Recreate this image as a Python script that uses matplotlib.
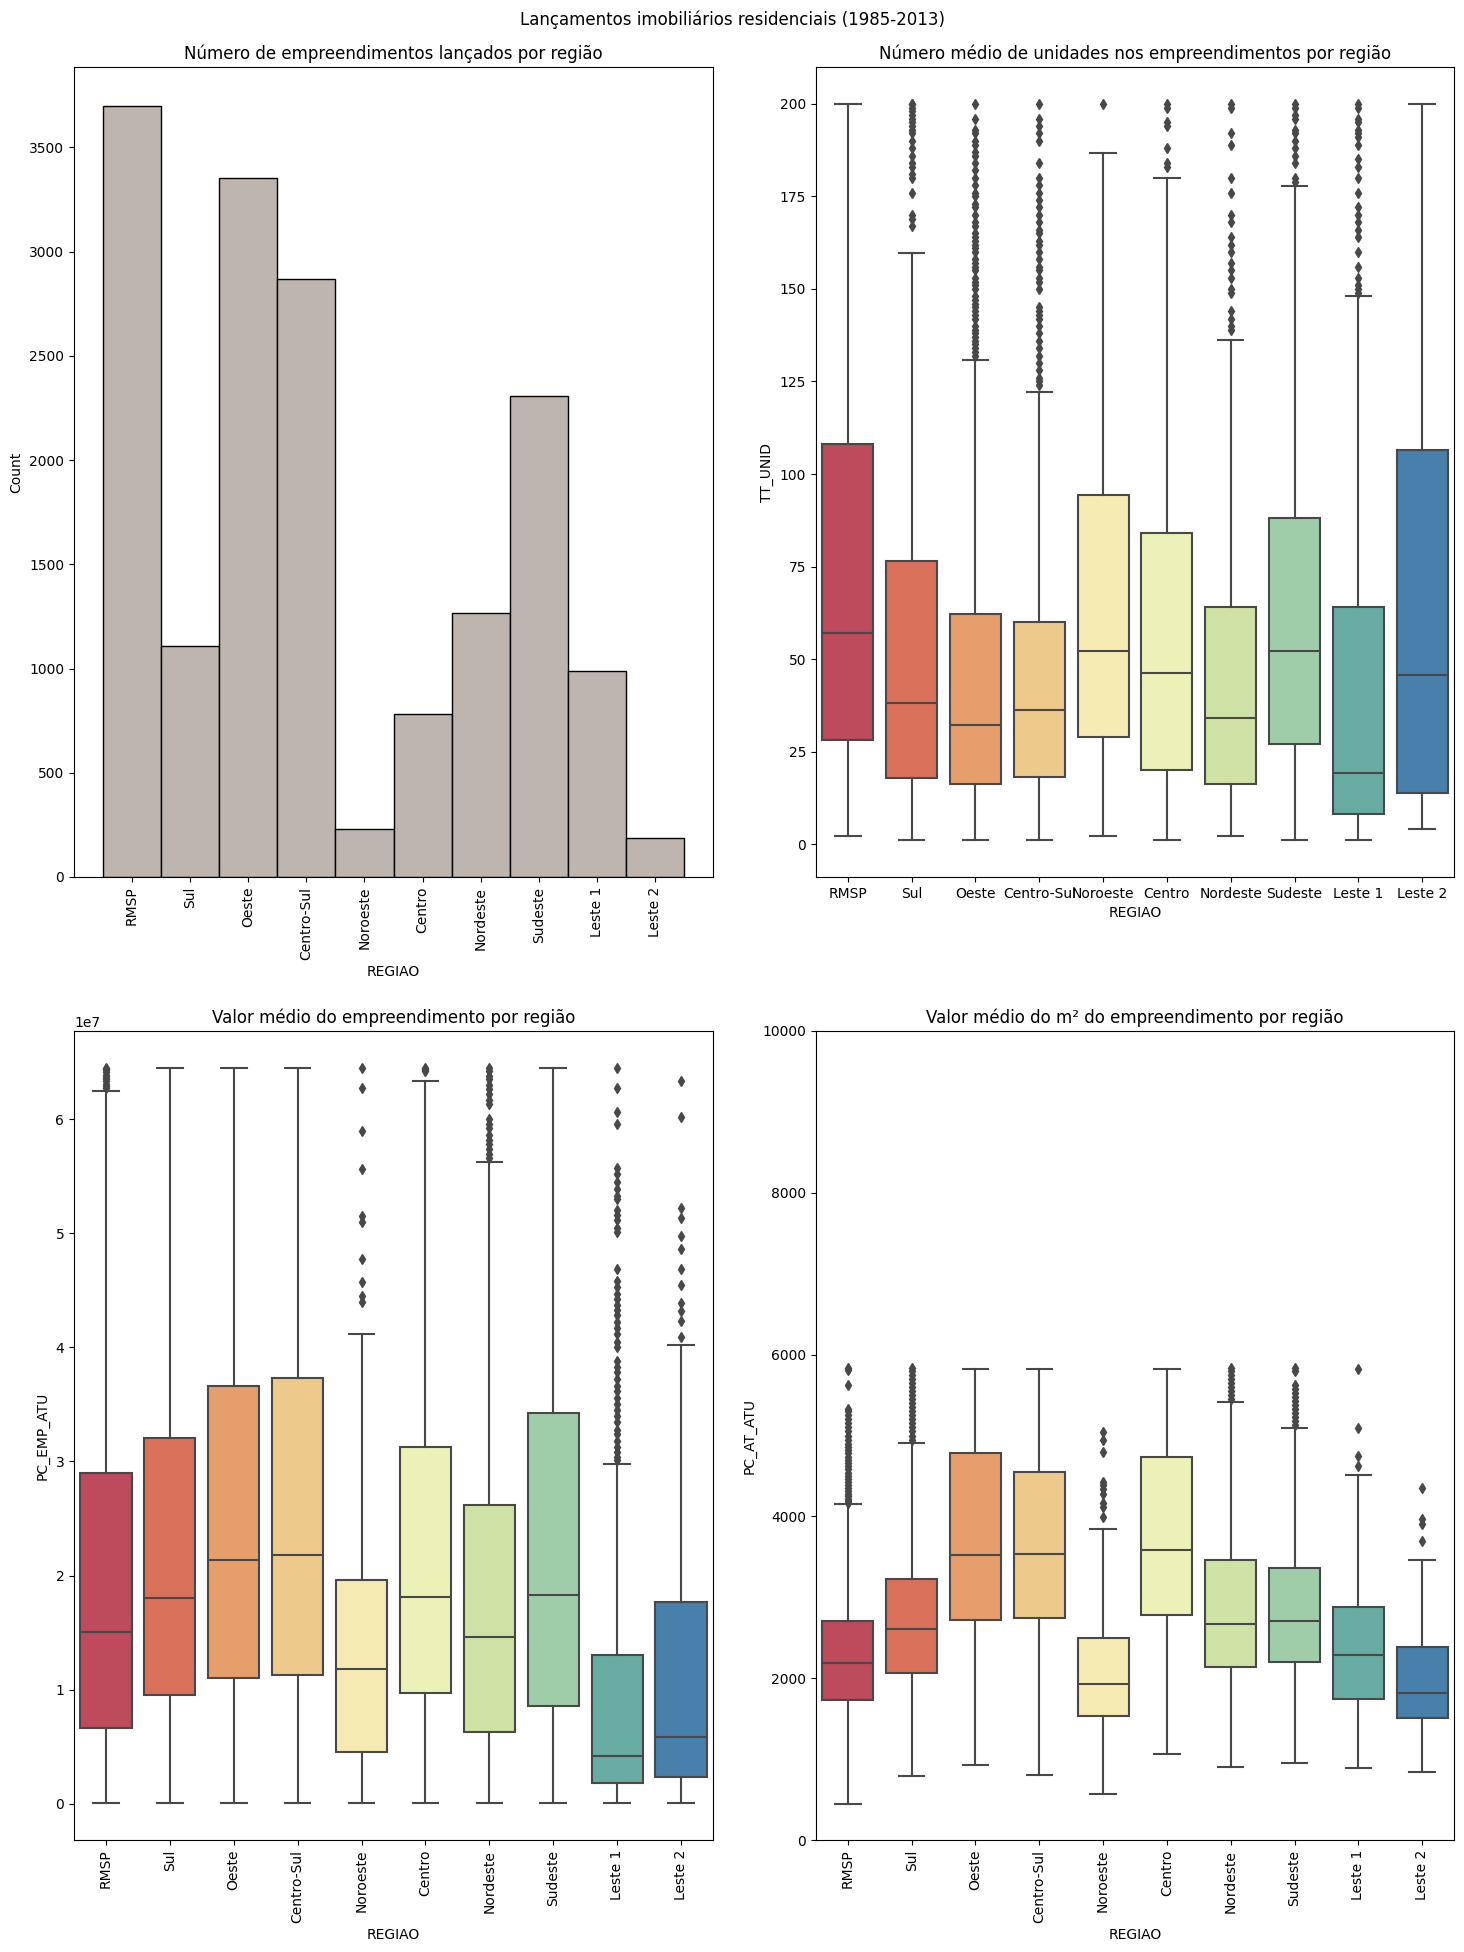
import colorsys
import matplotlib
matplotlib.use("Agg")
import matplotlib.pyplot as plt
import seaborn as sns

regions = ["RMSP", "Sul", "Oeste", "Centro-Sul", "Noroeste", "Centro",
           "Nordeste", "Sudeste", "Leste 1", "Leste 2"]

# --- Histogram counts ---
counts = [3700, 1110, 3355, 2870, 228, 780, 1265, 2305, 990, 185]

# --- TT_UNID box stats: whislo, q1, med, q3, whishi ---
unid_whislo = [2.2, 1.1, 1.1, 1.1, 2.2, 1.1, 2.2, 1.1, 1.1, 4.0]
unid_q1 = [28.2, 17.9, 16.2, 18.2, 28.9, 20.1, 16.2, 27.0, 8.2, 13.8]
unid_med = [57.1, 38.2, 32.1, 36.3, 52.1, 46.3, 34.0, 52.1, 19.3, 45.7]
unid_q3 = [108.1, 76.4, 62.1, 59.9, 94.3, 84.0, 64.0, 88.1, 64.0, 106.6]
unid_whishi = [200, 159.8, 130.9, 122.1, 186.8, 179.9, 136.1, 177.9, 148.0, 200]
unid_fliers = [
    [],
    [200, 200, 199, 198, 197, 196, 195, 194, 193, 192, 190, 188, 186, 184, 183, 181, 180, 176, 170, 169, 167],
    [132, 133, 134, 135, 136, 137, 138, 139, 140, 142, 143, 144, 145, 146, 147, 148, 150, 151, 152, 153,
     155, 156, 157, 158, 160, 161, 162, 163, 164, 165, 167, 168, 170, 172, 173, 175, 176, 178, 180, 182,
     184, 186, 187, 189, 190, 192, 193, 196, 200],
    [124, 125, 126, 128, 130, 132, 134, 136, 138, 140, 142, 143, 144, 145, 150, 152, 153, 155, 156, 158,
     160, 162, 163, 165, 166, 168, 170, 172, 174, 176, 178, 180, 184, 190, 192, 194, 196, 200],
    [200],
    [200, 199, 195, 194, 188, 184, 183],
    [200, 199, 192, 189, 180, 176, 170, 168, 164, 162, 160, 157, 155, 153, 150, 149, 144, 142, 140, 139],
    [200, 199, 197, 196, 193, 192, 190, 188, 186, 184, 180, 179],
    [200, 199, 196, 195, 193, 192, 191, 189, 185, 183, 180, 176, 172, 170, 168, 166, 164, 160, 156, 153,
     151, 150, 149],
    [],
]

# --- PC_EMP_ATU box stats (in units of 1e7) ---
emp_whislo = [0.005, 0.005, 0.005, 0.005, 0.005, 0.005, 0.005, 0.005, 0.005, 0.005]
emp_q1 = [0.661, 0.955, 1.104, 1.133, 0.457, 0.973, 0.626, 0.853, 0.181, 0.239]
emp_med = [1.506, 1.806, 2.138, 2.179, 1.183, 1.815, 1.465, 1.832, 0.417, 0.583]
emp_q3 = [2.898, 3.207, 3.659, 3.729, 1.963, 3.128, 2.622, 3.423, 1.305, 1.768]
emp_whishi = [6.25, 6.45, 6.45, 6.45, 4.117, 6.338, 5.621, 6.45, 2.974, 4.02]
emp_fliers = [
    [6.27, 6.29, 6.31, 6.33, 6.35, 6.37, 6.39, 6.41, 6.43, 6.44, 6.45],
    [], [], [],
    [6.45, 6.27, 5.90, 5.56, 5.15, 5.10, 4.77, 4.57, 4.45, 4.40],
    [6.42, 6.43, 6.44, 6.45],
    [6.45, 6.42, 6.38, 6.35, 6.30, 6.26, 6.22, 6.17, 6.13, 6.0, 5.96, 5.92, 5.86, 5.82, 5.78, 5.74, 5.69, 5.66],
    [],
    [6.45, 6.27, 6.06, 5.96, 5.57, 5.52, 5.45, 5.39, 5.33, 5.30, 5.20, 5.16, 5.12, 5.05, 5.01, 4.69, 4.58,
     4.53, 4.47, 4.42, 4.37, 4.33, 4.28, 4.22, 4.17, 4.12, 4.05, 4.0, 3.88, 3.83, 3.78, 3.72, 3.66, 3.62,
     3.56, 3.5, 3.45, 3.40, 3.35, 3.28, 3.24, 3.18, 3.13, 3.08, 3.04, 3.01],
    [6.33, 6.02, 5.22, 5.13, 4.98, 4.86, 4.69, 4.55, 4.39, 4.32, 4.23, 4.09],
]

# --- PC_AT_ATU box stats ---
at_whislo = [448, 793, 921, 806, 571, 1065, 904, 954, 892, 843]
at_q1 = [1735, 2064, 2717, 2742, 1533, 2779, 2134, 2199, 1743, 1513]
at_med = [2187, 2602, 3519, 3531, 1928, 3581, 2668, 2705, 2282, 1813]
at_q3 = [2705, 3223, 4785, 4555, 2491, 4732, 3457, 3359, 2878, 2380]
at_whishi = [4148, 4905, 5827, 5827, 3848, 5827, 5412, 5091, 4506, 3457]
at_fliers = [
    [4160, 4190, 4220, 4250, 4280, 4310, 4350, 4390, 4420, 4460, 4500, 4540, 4580, 4620, 4660, 4700,
     4740, 4780, 4820, 4860, 4900, 4950, 5000, 5050, 5100, 5150, 5200, 5250, 5300, 5330, 5630, 5810, 5830],
    [4950, 5000, 5050, 5100, 5150, 5200, 5250, 5300, 5350, 5400, 5450, 5500, 5550, 5600, 5650, 5700,
     5750, 5800, 5830],
    [], [],
    [5040, 4950, 4790, 4420, 4390, 4340, 4280, 4160, 4120, 3990],
    [],
    [5450, 5500, 5550, 5600, 5650, 5700, 5750, 5800, 5830],
    [5130, 5180, 5230, 5280, 5330, 5380, 5430, 5480, 5530, 5580, 5630, 5800, 5830],
    [5820, 5090, 4750, 4620],
    [4350, 3970, 3900, 3690],
]

# colors (seaborn-old style: Spectral palette desaturated to 0.75)
base = sns.color_palette("Spectral", len(regions))
box_colors = [sns.desaturate(c, 0.75) for c in base]
lum = min(colorsys.rgb_to_hls(*c)[1] for c in box_colors) * 0.6
gray = (lum, lum, lum)
hist_color = "#bdb5ae"

W, H = 1464, 1952
fig = plt.figure(figsize=(W / 100, H / 100), dpi=100)


def rect(l, r, t, b):
    return [l / W, 1 - b / H, (r - l) / W, (b - t) / H]


ax1 = fig.add_axes(rect(74, 713, 67, 877))
ax2 = fig.add_axes(rect(816, 1454, 67, 877))
ax3 = fig.add_axes(rect(74, 713, 1031, 1840))
ax4 = fig.add_axes(rect(816, 1454, 1031, 1840))

fig.suptitle("Lançamentos imobiliários residenciais (1985-2013)", fontsize=12, y=0.9944)

# Histogram
x = list(range(len(regions)))
ax1.bar(x, counts, width=1.0, color=hist_color, edgecolor="black", linewidth=1.0)
ax1.set_xlim(-1, len(regions))
ax1.set_xticks(x)
ax1.set_xticklabels(regions, rotation=90)
ax1.set_xlabel("REGIAO")
ax1.set_ylabel("Count")
ax1.set_title("Número de empreendimentos lançados por região")


def draw_box(ax, whislo, q1, med, q3, whishi, fliers, scale=1.0):
    stats = []
    for i, name in enumerate(regions):
        stats.append(dict(label=name, whislo=whislo[i] * scale, q1=q1[i] * scale, med=med[i] * scale,
                          q3=q3[i] * scale, whishi=whishi[i] * scale,
                          fliers=[f * scale for f in fliers[i]]))
    res = ax.bxp(stats, positions=x, widths=0.8, patch_artist=True, manage_ticks=False,
                 boxprops=dict(edgecolor=gray, linewidth=1.5),
                 whiskerprops=dict(color=gray, linewidth=1.5),
                 capprops=dict(color=gray, linewidth=1.5),
                 medianprops=dict(color=gray, linewidth=1.5),
                 flierprops=dict(marker="d", markerfacecolor=gray, markeredgecolor=gray,
                                 markersize=5, linestyle="none"))
    for patch, c in zip(res["boxes"], box_colors):
        patch.set_facecolor(c)
    ax.set_xticks(x)
    ax.set_xlim(-0.5, len(regions) - 0.5)
    ax.set_xlabel("REGIAO")


draw_box(ax2, unid_whislo, unid_q1, unid_med, unid_q3, unid_whishi, unid_fliers)
ax2.set_xticklabels(regions)
ax2.set_ylabel("TT_UNID")
ax2.set_title("Número médio de unidades nos empreendimentos por região")
ax2.margins(y=0.05)
ax2.autoscale(axis="y")

draw_box(ax3, emp_whislo, emp_q1, emp_med, emp_q3, emp_whishi, emp_fliers, scale=1e7)
ax3.set_xticklabels(regions, rotation=90)
ax3.set_ylabel("PC_EMP_ATU")
ax3.set_title("Valor médio do empreendimento por região")

draw_box(ax4, at_whislo, at_q1, at_med, at_q3, at_whishi, at_fliers)
ax4.set_xticklabels(regions, rotation=90)
ax4.set_ylabel("PC_AT_ATU")
ax4.set_ylim(0, 10000)
ax4.set_title("Valor médio do m² do empreendimento por região")

fig.savefig("out.png", dpi=100)
